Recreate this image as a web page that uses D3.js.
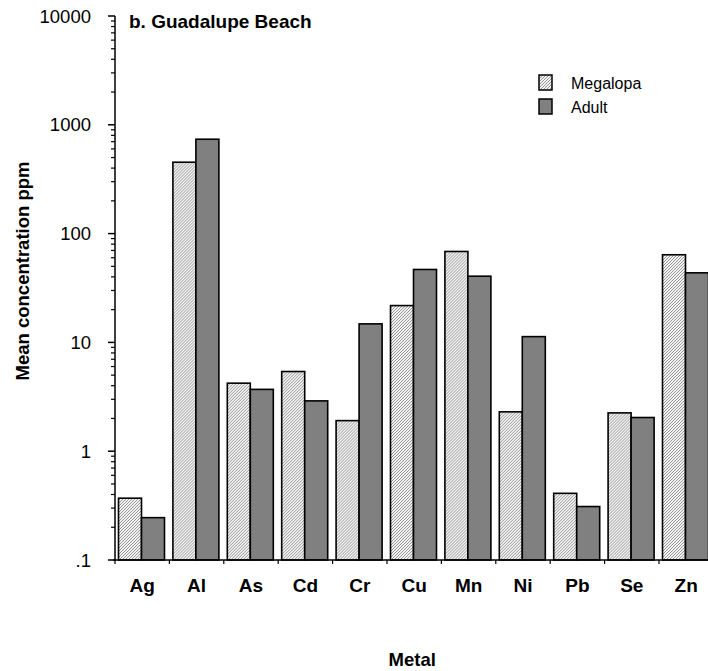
<!DOCTYPE html>
<html>
<head>
<meta charset="utf-8">
<script src="https://cdn.jsdelivr.net/npm/d3@7"></script>
<style>
html,body{margin:0;padding:0;background:#fff;}
svg{display:block;font-family:"Liberation Sans",Arial,sans-serif;}
</style>
</head>
<body>
<svg id="chart" width="708" height="671"></svg>
<script>
const metals = ["Ag","Al","As","Cd","Cr","Cu","Mn","Ni","Pb","Se","Zn"];
const seriesNames = ["Megalopa","Adult"];
const megalopa = [0.37, 453, 4.22, 5.4, 1.91, 21.8, 68.5, 2.3, 0.41, 2.25, 63.9];
const adult = [0.245, 737, 3.7, 2.9, 14.8, 46.8, 40.6, 11.3, 0.31, 2.04, 43.6];
const yTickValues = [10000, 1000, 100, 10, 1, 0.1];
const yTickLabels = ["10000", "1000", "100", "10", "1", ".1"];

const svg = d3.select("#chart");
const defs = svg.append("defs");
const pat = defs.append("pattern").attr("id","hatch").attr("patternUnits","userSpaceOnUse")
  .attr("width",3).attr("height",3);
pat.append("rect").attr("width",3).attr("height",3).attr("fill","#f4f4f4");
pat.append("path").attr("d","M-1,1 L1,-1 M0,3 L3,0 M2,4 L4,2").attr("stroke","#8a8a8a").attr("stroke-width",0.9);

const x0 = 115, x1 = 115 + 11*54.4;
const yTop = 16, yBot = 560;
const x = d3.scaleBand().domain(metals).range([x0, x1]).paddingInner(0).paddingOuter(0);
const xs = d3.scaleBand().domain(seriesNames).range([3.5, 49.5]);
const y = d3.scaleLog().domain([0.1, 10000]).range([yBot, yTop]);

const rows = metals.map((m,i)=>({metal:m, vals:[{s:"Megalopa",v:megalopa[i]},{s:"Adult",v:adult[i]}]}));
const fills = {Megalopa:"url(#hatch)", Adult:"#808080"};

const g = svg.append("g");
g.selectAll("g.grp").data(rows).join("g").attr("class","grp")
  .attr("transform", d=>`translate(${x(d.metal)},0)`)
  .selectAll("rect").data(d=>d.vals).join("rect")
  .attr("x", d=>xs(d.s)).attr("width", xs.bandwidth())
  .attr("y", d=>y(d.v)).attr("height", d=>yBot - y(d.v))
  .attr("fill", d=>fills[d.s]).attr("stroke","#000").attr("stroke-width",1.6);

// Y axis
const yAxisG = svg.append("g");
yAxisG.append("line").attr("x1",x0).attr("x2",x0).attr("y1",yTop).attr("y2",yBot+1).attr("stroke","#000").attr("stroke-width",1.5);
const minor = [];
for (let e=-1; e<4; e++) for (let k=2;k<=9;k++) minor.push(k*Math.pow(10,e));
yAxisG.selectAll("line.minor").data(minor).join("line").attr("class","minor")
  .attr("x1",x0-4).attr("x2",x0).attr("y1",d=>y(d)).attr("y2",d=>y(d)).attr("stroke","#000").attr("stroke-width",1.2);
yAxisG.selectAll("line.major").data(yTickValues).join("line").attr("class","major")
  .attr("x1",x0-7).attr("x2",x0).attr("y1",d=>y(d)).attr("y2",d=>y(d)).attr("stroke","#000").attr("stroke-width",1.5);
yAxisG.selectAll("text").data(yTickValues).join("text")
  .attr("x",91).attr("y",d=>y(d)).attr("dy","0.36em").attr("text-anchor","end")
  .attr("font-size",18.5).attr("fill","#000").text((d,i)=>yTickLabels[i]);

// X axis
const xAxisG = svg.append("g");
xAxisG.append("line").attr("x1",x0-2).attr("x2",x1).attr("y1",yBot).attr("y2",yBot).attr("stroke","#000").attr("stroke-width",1.5);
const bounds = metals.map(m=>x(m));
xAxisG.selectAll("line.tk").data(bounds).join("line").attr("class","tk")
  .attr("x1",d=>d).attr("x2",d=>d).attr("y1",yBot).attr("y2",yBot+4).attr("stroke","#000").attr("stroke-width",1.2);
xAxisG.selectAll("text").data(metals).join("text")
  .attr("x",d=>x(d)+x.bandwidth()/2).attr("y",592).attr("text-anchor","middle")
  .attr("font-size",19).attr("font-weight","bold").attr("fill","#000").text(d=>d);

// Titles
svg.append("text").attr("x",(x0+x1)/2 - 2).attr("y",666).attr("text-anchor","middle")
  .attr("font-size",18.5).attr("font-weight","bold").text("Metal");
svg.append("text").attr("transform","translate(29,271) rotate(-90)").attr("text-anchor","middle")
  .attr("font-size",18.5).attr("font-weight","bold").text("Mean concentration ppm");
svg.append("text").attr("x",129).attr("y",28).attr("font-size",19).attr("font-weight","bold").text("b. Guadalupe Beach");

// Legend
const leg = svg.append("g");
const legY = [75, 99];
seriesNames.forEach((s,i)=>{
  leg.append("rect").attr("x",539).attr("y",legY[i]).attr("width",13).attr("height",15)
    .attr("fill",fills[s]).attr("stroke","#000").attr("stroke-width",1.5);
  leg.append("text").attr("x",571).attr("y",legY[i]+14).attr("font-size",16).text(s);
});
</script>
</body>
</html>
